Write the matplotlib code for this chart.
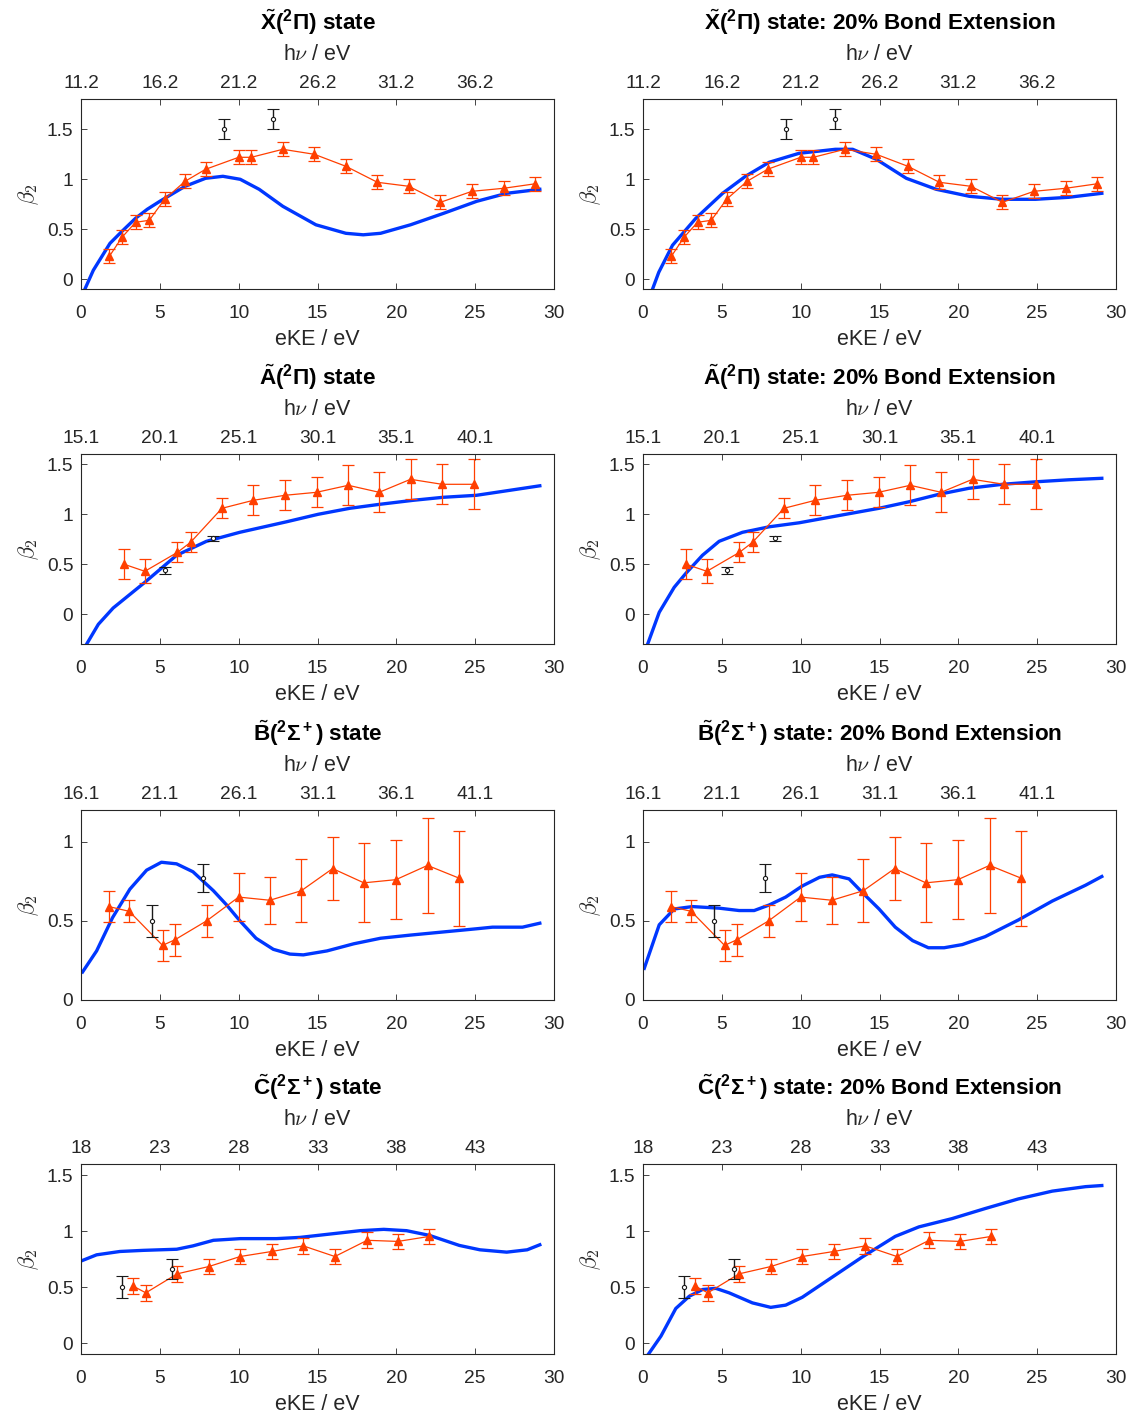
import numpy as np
import matplotlib.pyplot as plt

plt.rcParams['font.family'] = ['Liberation Sans', 'DejaVu Sans']
plt.rcParams['mathtext.fontset'] = 'custom'
plt.rcParams['mathtext.rm'] = 'Liberation Sans'
plt.rcParams['mathtext.bf'] = 'Liberation Sans:bold'
plt.rcParams['mathtext.it'] = 'Liberation Sans:italic'

# ---- states ----
state_names = [r'$\tilde{\mathbf{X}}\mathbf{(^2\Pi)}$',
               r'$\tilde{\mathbf{A}}\mathbf{(^2\Pi)}$',
               r'$\tilde{\mathbf{B}}\mathbf{(^2\Sigma^+)}$',
               r'$\tilde{\mathbf{C}}\mathbf{(^2\Sigma^+)}$']
ionisation = [11.2, 15.1, 16.1, 18.0]
ylims = [(-0.1, 1.8), (-0.3, 1.6), (0, 1.2), (-0.1, 1.6)]
yticks = [[0, 0.5, 1, 1.5], [0, 0.5, 1, 1.5], [0, 0.5, 1], [0, 0.5, 1, 1.5]]

# ---- experiment (this work, red) ----
x_exp_X = [1.8, 2.6, 3.46, 4.33, 5.3, 6.6, 7.9, 10.0, 10.8, 12.8, 14.8, 16.8, 18.8, 20.8, 22.8, 24.8, 26.8, 28.8]
y_exp_X = [0.23, 0.42, 0.57, 0.59, 0.80, 0.98, 1.10, 1.22, 1.22, 1.30, 1.25, 1.13, 0.97, 0.93, 0.77, 0.88, 0.91, 0.955]
e_exp_X = [0.07] * 18

x_exp_A = [2.74, 4.05, 6.12, 6.95, 8.94, 10.93, 12.93, 14.94, 16.95, 18.91, 20.9, 22.9, 24.9]
y_exp_A = [0.50, 0.43, 0.62, 0.72, 1.06, 1.14, 1.19, 1.22, 1.29, 1.22, 1.35, 1.30, 1.30]
e_exp_A = [0.15, 0.12, 0.10, 0.10, 0.10, 0.15, 0.15, 0.15, 0.20, 0.20, 0.20, 0.20, 0.25]

x_exp_B = [1.77, 3.06, 5.17, 5.95, 7.97, 10.0, 11.98, 13.97, 15.96, 17.94, 19.97, 21.98, 23.97]
y_exp_B = [0.59, 0.56, 0.345, 0.38, 0.50, 0.65, 0.63, 0.69, 0.83, 0.74, 0.76, 0.85, 0.77]
e_exp_B = [0.10, 0.07, 0.10, 0.10, 0.10, 0.15, 0.15, 0.20, 0.20, 0.25, 0.25, 0.30, 0.30]

x_exp_C = [3.31, 4.11, 6.1, 8.1, 10.1, 12.1, 14.1, 16.1, 18.15, 20.1, 22.1]
y_exp_C = [0.51, 0.45, 0.62, 0.685, 0.775, 0.82, 0.87, 0.775, 0.92, 0.91, 0.955]
e_exp_C = [0.07] * 11

# ---- previous measurements (black) ----
x_ref_X = [9.07, 12.2]
y_ref_X = [1.50, 1.60]
e_ref_X = [0.10, 0.10]
x_ref_A = [5.3, 8.4]
y_ref_A = [0.44, 0.76]
e_ref_A = [0.035, 0.025]
x_ref_B = [4.52, 7.71]
y_ref_B = [0.50, 0.77]
e_ref_B = [0.10, 0.09]
x_ref_C = [2.61, 5.8]
y_ref_C = [0.50, 0.665]
e_ref_C = [0.10, 0.09]

# ---- calculations at equilibrium geometry (blue, left) ----
x_eq_X = [0.1, 0.78, 1.84, 2.6, 3.46, 4.2, 5.0, 6.6, 7.9, 9.0, 10.1, 11.3, 12.8, 14.9, 16.8, 17.9, 19.0, 20.9, 23.0, 25.1, 27.0, 29.1]
y_eq_X = [-0.15, 0.09, 0.36, 0.48, 0.61, 0.70, 0.78, 0.93, 1.01, 1.03, 1.00, 0.90, 0.73, 0.545, 0.46, 0.445, 0.46, 0.545, 0.66, 0.78, 0.86, 0.90]
x_eq_A = [0.35, 1.1, 2.04, 4.05, 6.06, 7.96, 10.07, 13.03, 15.04, 17.05, 18.95, 21.07, 22.97, 25.08, 27.2, 29.1]
y_eq_A = [-0.30, -0.10, 0.063, 0.32, 0.59, 0.73, 0.82, 0.925, 1.0, 1.06, 1.10, 1.14, 1.17, 1.19, 1.24, 1.285]
x_eq_B = [0.1, 0.99, 2.0, 3.1, 4.16, 5.1, 6.06, 7.1, 8.4, 9.24, 10.08, 11.1, 12.2, 13.25, 14.1, 15.6, 17.3, 19.0, 20.9, 23.0, 25.1, 26.1, 28.0, 29.1]
y_eq_B = [0.177, 0.31, 0.52, 0.70, 0.82, 0.87, 0.86, 0.81, 0.69, 0.60, 0.50, 0.39, 0.32, 0.29, 0.285, 0.31, 0.355, 0.39, 0.41, 0.43, 0.45, 0.46, 0.46, 0.485]
x_eq_C = [0.1, 0.99, 2.47, 3.95, 6.07, 7.1, 8.4, 10.1, 12.4, 13.9, 15.6, 17.7, 19.2, 20.65, 22.1, 24.0, 25.3, 27.0, 28.3, 29.1]
y_eq_C = [0.74, 0.79, 0.82, 0.83, 0.84, 0.87, 0.92, 0.935, 0.935, 0.946, 0.973, 1.006, 1.018, 1.006, 0.964, 0.874, 0.835, 0.814, 0.835, 0.88]

# ---- calculations with 20% bond extension (blue, right) ----
x_ext_X = [0.6, 1.0, 1.87, 3.35, 5.05, 6.5, 8.0, 9.9, 12.2, 13.3, 14.8, 16.7, 18.6, 20.7, 22.8, 24.9, 27.0, 29.1]
y_ext_X = [-0.1, 0.07, 0.34, 0.61, 0.86, 1.03, 1.17, 1.26, 1.30, 1.30, 1.20, 1.01, 0.90, 0.83, 0.80, 0.80, 0.82, 0.86]
x_ext_A = [0.29, 1.03, 1.98, 2.72, 3.77, 4.83, 6.31, 6.94, 8.0, 9.9, 12.86, 14.97, 16.87, 18.77, 20.67, 22.8, 24.9, 27.0, 29.1]
y_ext_A = [-0.30, 0.02, 0.27, 0.41, 0.59, 0.73, 0.82, 0.84, 0.875, 0.915, 1.0, 1.06, 1.125, 1.20, 1.26, 1.30, 1.325, 1.345, 1.36]
x_ext_B = [0.08, 1.03, 1.98, 3.14, 4.83, 6.1, 7.05, 8.0, 9.05, 10.1, 11.2, 12.0, 13.07, 13.9, 14.97, 16.0, 17.1, 18.1, 19.1, 20.25, 21.7, 23.8, 25.96, 28.07, 29.1]
y_ext_B = [0.20, 0.475, 0.575, 0.59, 0.58, 0.565, 0.565, 0.60, 0.65, 0.72, 0.775, 0.79, 0.765, 0.68, 0.575, 0.46, 0.375, 0.33, 0.33, 0.35, 0.40, 0.505, 0.625, 0.725, 0.78]
x_ext_C = [0.29, 1.14, 2.08, 2.94, 3.78, 4.62, 5.46, 6.94, 8.1, 9.05, 10.1, 12.0, 13.9, 16.0, 17.5, 19.6, 21.7, 23.8, 25.96, 28.07, 29.1]
y_ext_C = [-0.11, 0.063, 0.31, 0.42, 0.48, 0.49, 0.45, 0.36, 0.32, 0.34, 0.41, 0.59, 0.77, 0.955, 1.04, 1.114, 1.204, 1.29, 1.36, 1.40, 1.41]

exp_data = [(x_exp_X, y_exp_X, e_exp_X), (x_exp_A, y_exp_A, e_exp_A),
            (x_exp_B, y_exp_B, e_exp_B), (x_exp_C, y_exp_C, e_exp_C)]
ref_data = [(x_ref_X, y_ref_X, e_ref_X), (x_ref_A, y_ref_A, e_ref_A),
            (x_ref_B, y_ref_B, e_ref_B), (x_ref_C, y_ref_C, e_ref_C)]
calc_data = [[(x_eq_X, y_eq_X), (x_ext_X, y_ext_X)],
             [(x_eq_A, y_eq_A), (x_ext_A, y_ext_A)],
             [(x_eq_B, y_eq_B), (x_ext_B, y_ext_B)],
             [(x_eq_C, y_eq_C), (x_ext_C, y_ext_C)]]

W, H = 1135, 1416
fig = plt.figure(figsize=(W / 100, H / 100), dpi=100)

lefts = [81, 643]
tops = [99.3, 454.3, 810, 1164.3]
aw, ah = 473, 190
axcol = '#262626'
red = '#ff3f00'
blue = '#0037ff'

for r in range(4):
    for c in range(2):
        ax = fig.add_axes([lefts[c] / W, 1 - (tops[r] + ah) / H, aw / W, ah / H])
        cx, cy = calc_data[r][c]
        ax.plot(cx, cy, color=blue, lw=2.4, zorder=2)
        ex, ey, ee = exp_data[r]
        ax.errorbar(ex, ey, yerr=ee, color=red, lw=0.9, elinewidth=0.9, capsize=4.5,
                    capthick=0.9, marker='^', ms=6, mfc=red, mec=red, zorder=3)
        rx, ry, re = ref_data[r]
        ax.errorbar(rx, ry, yerr=re, color='#1a1a1a', ls='none', elinewidth=1.0, capsize=4,
                    capthick=1.0, marker='o', ms=3, mfc='white', mec='#1a1a1a', mew=0.8, zorder=4)

        ax.set_xlim(0, 30)
        ax.set_ylim(*ylims[r])
        ax.set_xticks(range(0, 31, 5))
        ax.set_yticks(yticks[r])
        ax.set_yticklabels([f'{v:g}' for v in yticks[r]])
        ax.tick_params(direction='in', length=4, width=0.6, colors=axcol, labelsize=13.8,
                       top=False, right=False)
        ax.tick_params(axis='x', pad=11.5)
        ax.tick_params(axis='y', pad=5.5)
        for s in ax.spines.values():
            s.set_color(axcol)
            s.set_linewidth(0.8)
        ax.set_xlabel('eKE / eV', fontsize=15.5, color=axcol, labelpad=5)
        ax.set_ylabel(r'$\beta_2$', fontsize=16, color=axcol, math_fontfamily='cm', labelpad=4)

        # photon energy axis on top
        ax2 = ax.twiny()
        ax2.set_xlim(0, 30)
        top_ticks = list(range(0, 30, 5))
        ax2.set_xticks(top_ticks)
        ax2.set_xticklabels([f'{round(ionisation[r] + t, 1):g}' for t in top_ticks])
        ax2.tick_params(direction='in', length=4, width=0.6, colors=axcol, labelsize=13.8, pad=5)
        for s in ax2.spines.values():
            s.set_visible(False)
        ax2.set_xlabel(r'h$\nu$ / eV', fontsize=15.5, color=axcol, math_fontfamily='cm', labelpad=11)

        title = state_names[r] + ' state'
        if c == 1:
            title += ': 20% Bond Extension'
        ax2.set_title(title, fontsize=16.2, fontweight='bold', color='black', pad=10)

fig.savefig('out.png', dpi=100)
